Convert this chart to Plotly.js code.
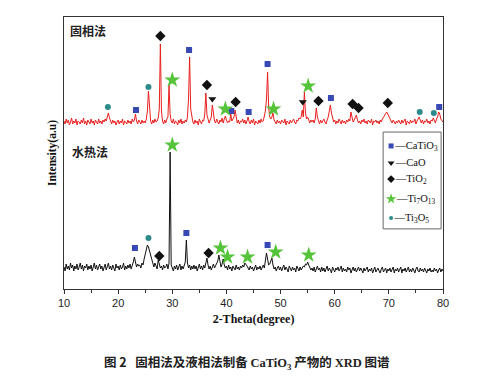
<!DOCTYPE html>
<html><head><meta charset="utf-8">
<script src="https://cdn.plot.ly/plotly-3.0.1.min.js"></script>
<style>html,body{margin:0;padding:0;background:#fff}#chart{width:500px;height:390px}</style>
</head><body><div id="chart"></div>
<script>
// 2-Theta grid: start and step (degrees)
const startAngle = 10;
const stepAngle = 0.2;

// Solid-state (固相法) pattern, offset upward, arbitrary units (10.0 .. 80.0 deg)
const solidState = [
168,165,170,166,169,164,167,171,165,168,
166,170,164,168,167,165,169,166,171,165,
168,164,169,167,165,170,166,168,164,169,
167,165,170,166,168,165,169,167,170,168,
172,176,171,167,165,169,166,168,164,167,
169,165,168,166,170,164,168,167,165,169,
166,168,165,170,167,169,175,168,165,169,
167,165,169,166,168,166,170,178,198,175,
168,165,169,166,170,167,168,171,180,245,
178,168,165,169,166,170,172,204,175,168,
166,170,165,168,167,164,169,166,170,165,
168,166,169,167,172,190,232,180,170,167,
165,169,166,168,164,170,167,165,169,168,
175,196,174,168,166,169,172,184,173,168,
166,170,167,165,169,167,171,166,170,173,
169,166,168,167,175,168,170,172,179,170,
166,169,165,168,167,170,166,169,165,168,
172,167,165,169,166,170,164,168,167,165,
169,166,170,167,168,172,178,190,217,182,
172,170,172,176,169,167,165,169,166,168,
165,169,167,166,170,164,168,167,165,169,
166,168,170,167,165,169,168,171,170,172,
179,172,197,176,170,172,168,166,169,167,
169,166,170,181,172,167,165,169,166,168,
170,167,165,169,172,178,184,176,170,167,
169,165,168,166,170,167,165,169,166,168,
165,169,167,170,168,177,170,167,169,171,
174,169,166,168,165,169,167,170,166,168,
165,169,167,166,170,164,168,167,169,166,
168,165,169,167,170,172,174,176,177,175,
172,170,168,166,169,167,165,168,166,169,
167,165,169,166,168,170,164,168,167,165,
169,166,168,167,170,165,168,171,172,169,
166,169,165,168,167,170,166,168,165,169,
168,171,168,166,170,172,177,175,170,168,
167
];

// Hydrothermal (水热法) pattern, arbitrary units (10.0 .. 80.0 deg)
const hydrothermal = [
22,18,25,20,23,19,26,21,24,18,
23,20,25,19,22,26,20,24,18,23,
21,25,19,23,20,24,18,22,26,20,
24,19,22,25,20,23,18,21,25,19,
22,26,20,23,19,24,21,18,25,21,
23,19,24,20,22,26,19,23,20,24,
21,25,20,23,27,32,26,22,25,23,
24,21,26,24,30,35,40,44,42,38,
33,28,25,22,26,23,20,29,24,21,
23,19,24,21,22,25,20,26,137,24,
21,18,23,20,24,19,22,25,19,23,
20,24,27,49,26,21,24,19,23,20,
24,20,23,18,22,25,20,23,19,24,
21,25,31,24,20,23,19,22,25,21,
24,26,28,34,26,22,25,30,24,21,
23,19,24,20,22,18,23,21,19,24,
20,22,19,23,21,24,22,26,25,23,
21,19,23,20,22,18,21,24,19,22,
20,23,19,22,24,21,27,36,30,24,
25,28,31,24,20,22,18,21,23,19,
22,18,21,24,19,22,20,17,23,20,
18,22,19,21,17,23,20,18,22,19,
21,23,22,25,24,27,24,22,19,21,
18,22,17,20,23,19,21,17,22,18,
21,17,20,23,18,21,19,16,22,19,
17,21,19,22,18,20,23,17,21,18,
20,17,22,19,21,16,20,22,18,21,
17,20,22,18,21,19,16,21,18,20,
22,17,20,18,21,16,20,22,17,19,
21,18,16,20,22,17,19,21,16,20,
18,21,17,19,22,16,20,18,21,17,
19,22,16,20,18,21,17,20,22,17,
20,17,21,19,16,20,22,18,17,21,
18,20,17,21,19,16,20,18,21,17,
19,17,21,18,20,16,19,21,17,20,
18
];

// Phase identification marks (2-Theta, intensity level)
const catio3X = [23.3, 33.1, 40.9, 44.1, 47.6, 59.3, 79.3, 23.1, 32.6, 47.6];
const catio3Y = [179, 239, 178, 177, 225, 191, 182, 41, 56, 44];
const caoX = [37.4, 54.1];
const caoY = [190, 187];
const tio2X = [27.8, 36.4, 41.7, 57.0, 63.3, 64.4, 69.8, 27.6, 36.7];
const tio2Y = [253, 204, 187, 188, 185, 181, 186, 33, 36];
const ti7o13X = [30.0, 39.8, 48.7, 55.1, 30.0, 38.9, 40.2, 43.9, 49.1, 55.2];
const ti7o13Y = [209, 180, 180, 203, 144, 41, 32, 32, 37, 34];
const ti3o5X = [18.1, 25.6, 75.7, 78.3, 25.6];
const ti3o5Y = [182, 202, 177, 176, 51];

// Legend labels
const phaseLabels = ['—CaTiO<sub>3</sub>', '—CaO', '—TiO<sub>2</sub>', '—Ti<sub>7</sub>O<sub>13</sub>', '—Ti<sub>3</sub>O<sub>5</sub>'];
const xTicks = [10, 20, 30, 40, 50, 60, 70, 80];

const phaseStyles = [
  {symbol: 'square', color: '#3848b4', size: 6, legendSize: 5},
  {symbol: 'triangle-down', color: '#111111', size: 7, legendSize: 6},
  {symbol: 'diamond', color: '#111111', size: 8, legendSize: 6},
  {symbol: 'star', color: '#56c43a', size: 12, legendSize: 8},
  {symbol: 'circle', color: '#2b8a8a', size: 6, legendSize: 4}
];
const phaseData = [[catio3X, catio3Y], [caoX, caoY], [tio2X, tio2Y], [ti7o13X, ti7o13Y], [ti3o5X, ti3o5Y]];

const traces = [
  {type: 'scatter', mode: 'lines', x0: startAngle, dx: stepAngle, y: solidState,
   line: {color: '#e8201e', width: 1}, showlegend: false},
  {type: 'scatter', mode: 'lines', x0: startAngle, dx: stepAngle, y: hydrothermal,
   line: {color: '#111111', width: 1}, showlegend: false}
];
phaseData.forEach((d, i) => {
  traces.push({type: 'scatter', mode: 'markers', x: d[0], y: d[1], showlegend: false,
    marker: {symbol: phaseStyles[i].symbol, color: phaseStyles[i].color, size: phaseStyles[i].size, line: {width: 0}}});
});
// custom legend on an overlay axis (plot-fraction coordinates)
const legendRowY = [0.526, 0.463, 0.404, 0.331, 0.261];
phaseLabels.forEach((lab, i) => {
  traces.push({type: 'scatter', mode: 'markers+text', xaxis: 'x2', yaxis: 'y2',
    x: [0.863], y: [legendRowY[i]], text: [lab], textposition: 'middle right', showlegend: false,
    textfont: {family: 'Liberation Serif, Times New Roman, serif', size: 10.5, color: '#111'},
    marker: {symbol: phaseStyles[i].symbol, color: phaseStyles[i].color,
             size: phaseStyles[i].legendSize, line: {width: 0}}});
});

const layout = {
  width: 500, height: 390,
  margin: {l: 64, r: 57, t: 17, b: 101},
  paper_bgcolor: '#fff', plot_bgcolor: 'rgba(0,0,0,0)',
  showlegend: false,
  xaxis: {range: [10, 80], tickvals: xTicks, ticktext: xTicks.map(String),
    showline: true, mirror: true, linecolor: '#333', linewidth: 1,
    ticks: 'outside', ticklen: 4, tickcolor: '#333', showgrid: false, zeroline: false,
    minor: {dtick: 5, ticks: 'outside', ticklen: 3, tickcolor: '#333'},
    tickfont: {family: 'Liberation Sans, Arial, sans-serif', size: 11, color: '#222'},
    title: {text: '<b>2-Theta(degree)</b>', standoff: 6,
      font: {family: 'Liberation Serif, Times New Roman, serif', size: 12, color: '#111'}}},
  yaxis: {range: [0, 272], showline: true, mirror: true, linecolor: '#333', linewidth: 1,
    showticklabels: false, ticks: '', showgrid: false, zeroline: false,
    title: {text: '<b>Intensity(a.u)</b>', standoff: 3,
      font: {family: 'Liberation Serif, Times New Roman, serif', size: 11.5, color: '#111'}}},
  xaxis2: {domain: [0, 1], range: [0, 1], anchor: 'y2', visible: false, fixedrange: true},
  yaxis2: {domain: [0, 1], range: [0, 1], anchor: 'x2', visible: false, fixedrange: true},
  shapes: [
    {type: 'rect', xref: 'paper', yref: 'paper', x0: 0.842, x1: 0.995, y0: 0.221, y1: 0.577,
     line: {color: '#666', width: 1}, fillcolor: 'rgba(0,0,0,0)'}
  ],
  annotations: [
    {xref: 'paper', yref: 'paper', x: 0.011, y: 0.949, xanchor: 'left', yanchor: 'middle', showarrow: false,
     text: '<b>固相法</b>', font: {family: 'Noto Sans CJK SC, sans-serif', size: 12, color: '#222'}},
    {xref: 'paper', yref: 'paper', x: 0.016, y: 0.504, xanchor: 'left', yanchor: 'middle', showarrow: false,
     text: '<b>水热法</b>', font: {family: 'Noto Sans CJK SC, sans-serif', size: 12, color: '#222'}},
    {xref: 'paper', yref: 'paper', x: 0.484, y: -0.268, xanchor: 'center', yanchor: 'middle', showarrow: false,
     text: '<b>图 2</b>   <b>固相法及液相法制备 <span style="font-family:Liberation Serif,serif">CaTiO<sub>3</sub></span> 产物的 <span style="font-family:Liberation Serif,serif">XRD</span> 图谱</b>',
     font: {family: 'Noto Sans CJK SC, sans-serif', size: 12.5, color: '#222'}}
  ]
};

Plotly.newPlot('chart', traces, layout, {staticPlot: true, displayModeBar: false});
</script>
</body></html>
